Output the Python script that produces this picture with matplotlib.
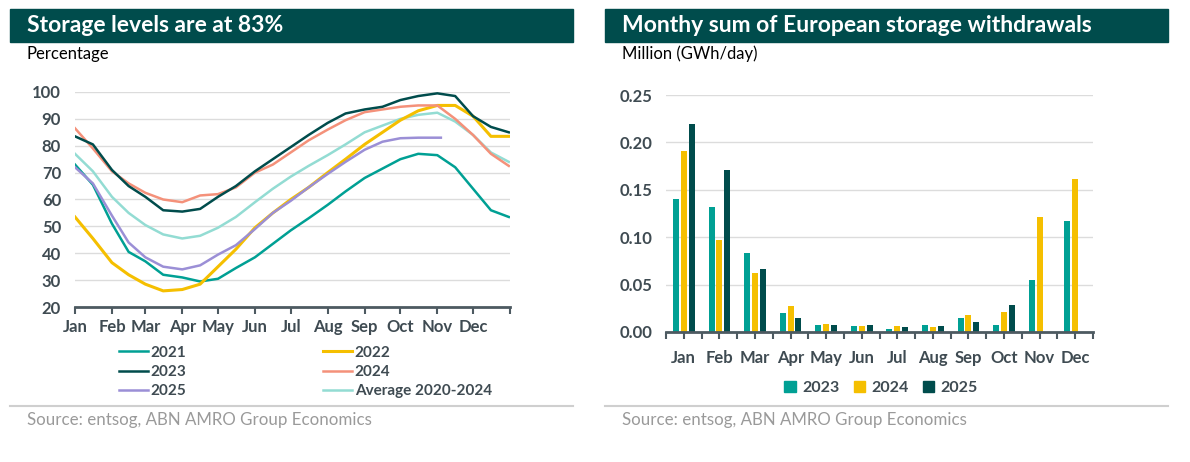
import matplotlib
matplotlib.use("Agg")
import matplotlib.pyplot as plt
from matplotlib.patches import Rectangle, Patch
from matplotlib.lines import Line2D

plt.rcParams['font.family'] = ['Lato', 'DejaVu Sans']

# --- data: storage levels (%), read at day-of-year positions ---
days = [0, 15, 31, 45, 59, 74, 90, 105, 120, 135, 151, 166, 181, 196, 212,
        227, 243, 258, 273, 288, 304, 319, 334, 349, 364]
lvl_2021 = [73, 65.5, 51, 40.5, 37, 32, 31, 29.5, 30.5, 34.5, 38.5, 43.5, 48.5,
            53, 58, 63, 68, 71.5, 75, 77, 76.5, 72, 64, 56, 53.5]
lvl_2022 = [53.5, 45.5, 36.5, 32, 28.5, 26, 26.5, 28.5, 35, 41.5, 49.5, 55, 60,
            64.5, 70, 75, 80.5, 85, 89.5, 93, 95, 95, 91, 83.5, 83.5]
lvl_2023 = [83.5, 80.5, 71, 65, 61, 56, 55.5, 56.5, 61, 65, 70.5, 75, 79.5,
            84, 88.5, 92, 93.5, 94.5, 97, 98.5, 99.5, 98.5, 91, 87, 85]
lvl_2024 = [86.5, 79, 70.5, 66, 62.5, 60, 59, 61.5, 62, 64.5, 70, 73, 77.5,
            82, 86, 89.5, 92.5, 93.5, 94.5, 95, 95, 90, 84, 77, 72.5]
days_2025 = [0, 15, 31, 45, 59, 74, 90, 105, 120, 135, 151, 166, 181, 196, 212,
             227, 243, 258, 273, 288, 307]
lvl_2025 = [72, 66, 54, 44, 38.5, 35, 34, 35.5, 39.5, 43, 49, 55, 59.5, 64.5,
            69.5, 74, 78.5, 81.5, 82.8, 83, 83]
lvl_avg = [77, 70.5, 61, 55, 50.5, 47, 45.5, 46.5, 49.5, 53.5, 59, 64, 68.5,
           72.5, 76.5, 80.5, 85, 87.5, 90, 91.5, 92.3, 89, 84, 77.5, 74]

month_starts = [0, 31, 59, 90, 120, 151, 181, 212, 243, 273, 304, 334, 365]
months = ['Jan', 'Feb', 'Mar', 'Apr', 'May', 'Jun', 'Jul', 'Aug', 'Sep',
          'Oct', 'Nov', 'Dec']

# --- data: monthly withdrawals (million GWh/day) ---
wd_2023 = [0.140, 0.132, 0.083, 0.020, 0.007, 0.0063, 0.0032, 0.0077, 0.0144,
           0.0077, 0.055, 0.117]
wd_2024 = [0.191, 0.097, 0.0625, 0.027, 0.0088, 0.0063, 0.0063, 0.0053, 0.0176,
           0.021, 0.121, 0.161]
wd_2025 = [0.219, 0.171, 0.0664, 0.0144, 0.0077, 0.0077, 0.0053, 0.0063,
           0.0102, 0.0288]

TEAL = '#00a094'
YELLOW = '#f5bf00'
DARK = '#004c4c'
SALMON = '#f4917a'
PURPLE = '#9b8fd6'
AQUA = '#93dcd3'
TICK = '#3f4b52'
GRID = '#dcdcdc'
AXIS = '#4d5a61'

W, H = 1190, 462
fig = plt.figure(figsize=(W / 100, H / 100), dpi=100)


def fx(px):
    return px / W


def fy(py):
    return 1 - py / H


# headers, subtitles, separators, source
for x0, x1, title, sub in [(10, 573, 'Storage levels are at 83%', 'Percentage'),
                           (605, 1168, 'Monthy sum of European storage withdrawals',
                            'Million (GWh/day)')]:
    fig.patches.append(Rectangle((fx(x0), fy(42)), fx(x1 - x0), 33 / H,
                                 transform=fig.transFigure, color=DARK, zorder=0))
    fig.text(fx(x0 + 17), fy(25.5), title, color='white', fontsize=16.5,
             fontweight='bold', va='center')
    fig.text(fx(x0 + 17), fy(54), sub, color='black', fontsize=12, va='center')
    fig.lines.append(Line2D([fx(x0), fx(x1)], [fy(406), fy(406)],
                            transform=fig.transFigure, color='#cfcfcf', lw=1.5))
    fig.text(fx(x0 + 17), fy(420), 'Source: entsog, ABN AMRO Group Economics',
             color='#9a9a9a', fontsize=12.2, va='center')

# --- left chart ---
ax1 = fig.add_axes([fx(75), fy(307), fx(435), 215 / H])
ax1.plot(days, lvl_avg, color=AQUA, lw=1.8, label='Average 2020-2024')
ax1.plot(days, lvl_2021, color=TEAL, lw=1.8, label='2021')
ax1.plot(days, lvl_2022, color=YELLOW, lw=2.2, label='2022')
ax1.plot(days, lvl_2024, color=SALMON, lw=1.8, label='2024')
ax1.plot(days, lvl_2023, color=DARK, lw=1.8, label='2023')
ax1.plot(days_2025, lvl_2025, color=PURPLE, lw=1.8, label='2025')
ax1.set_xlim(0, 365)
ax1.set_ylim(20, 100)
ax1.set_yticks(range(20, 101, 10))
ax1.set_xticks(month_starts)
ax1.set_xticklabels(months + [''])

# --- right chart ---
ax2 = fig.add_axes([fx(666), fy(332), fx(427), 237 / H])
x = list(range(12))
bw, step = 0.17, 0.22
ax2.bar([i - step for i in x], wd_2023, width=bw, color=TEAL, label='2023')
ax2.bar(x, wd_2024, width=bw, color=YELLOW, label='2024')
ax2.bar([i + step for i in range(len(wd_2025))], wd_2025, width=bw, color=DARK,
        label='2025')
ax2.set_xlim(-0.5, 11.5)
ax2.set_ylim(0, 0.25)
ax2.set_yticks([0, 0.05, 0.10, 0.15, 0.20, 0.25])
ax2.set_yticklabels(['0.00', '0.05', '0.10', '0.15', '0.20', '0.25'])
ax2.set_xticks([i - 0.5 for i in range(13)])
ax2.set_xticklabels([])
ax2.set_xticks(x, minor=True)
ax2.set_xticklabels(months, minor=True)
ax2.tick_params(axis='x', which='minor', length=0, pad=8)

for ax in (ax1, ax2):
    for s in ('top', 'right', 'left'):
        ax.spines[s].set_visible(False)
    ax.spines['bottom'].set_color(AXIS)
    ax.spines['bottom'].set_linewidth(2)
    ax.grid(axis='y', color=GRID, lw=1)
    ax.set_axisbelow(True)
    ax.tick_params(axis='y', length=0, pad=10, labelsize=12, labelcolor=TICK)
    ax.tick_params(axis='x', which='both', labelsize=12, labelcolor=TICK,
                   color=AXIS, width=1.5, length=5, direction='out')
    for lab in ax.get_xticklabels(which='both') + ax.get_yticklabels():
        lab.set_fontweight('bold')

# legends
h = {l.get_label(): l for l in ax1.get_lines()}
order = ['2021', '2023', '2025', '2022', '2024', 'Average 2020-2024']
fig.legend([h[k] for k in order], order, loc='upper left',
           bbox_to_anchor=(fx(105), fy(332)), ncol=2, frameon=False,
           prop={'size': 11, 'weight': 'bold'}, labelcolor=TICK,
           handlelength=1.9, handletextpad=0.2, columnspacing=8.9,
           labelspacing=0.35)

bh = [Patch(color=TEAL), Patch(color=YELLOW), Patch(color=DARK)]
fig.legend(bh, ['2023', '2024', '2025'], loc='center',
           bbox_to_anchor=(fx(881), fy(388)), ncol=3, frameon=False,
           prop={'size': 11.5, 'weight': 'bold'}, labelcolor=TICK,
           handlelength=0.7, handleheight=0.7, handletextpad=0.4,
           columnspacing=0.9)

fig.savefig('out.png', dpi=100)
